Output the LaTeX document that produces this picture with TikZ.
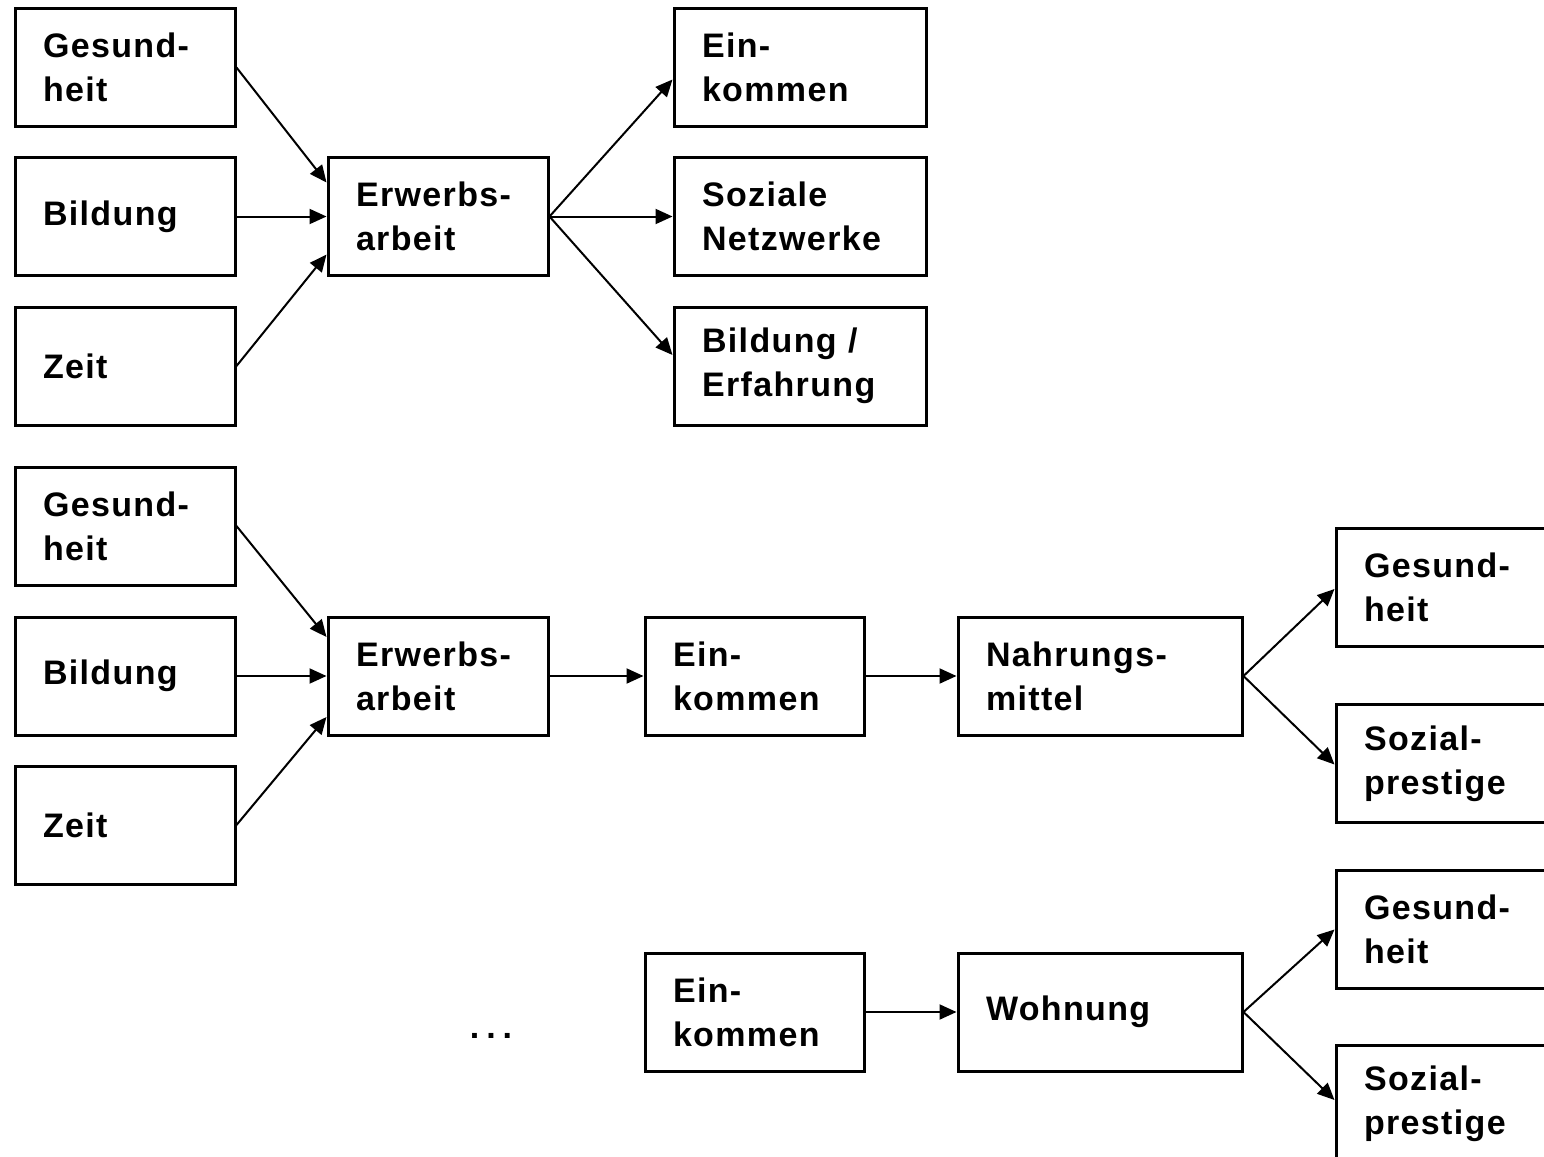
\documentclass[tikz,border=0pt]{standalone}
\usepackage{fontspec}
\setmainfont{Liberation Sans}[LetterSpace=4]
\usetikzlibrary{arrows.meta}
\tikzset{
  box/.style={draw, line width=1.5pt, rectangle, inner xsep=14pt, inner ysep=0pt,
    minimum height=59pt, align=left, anchor=center,
    font=\fontsize{17pt}{22pt}\selectfont\bfseries},
  conn/.style={line width=1pt, -{Triangle[length=8.5pt,width=7.5pt]}}
}
\begin{document}
\begin{tikzpicture}[x=0.5pt,y=-0.5pt]
\useasboundingbox (0,0) rectangle (1544,1157);
\clip (0,0) rectangle (1544,1157);
% row 1
\node[box, text width=82pt] (g1) at (125,67.5) {Gesund-\\heit};
\node[box, text width=82pt] (b1) at (125,216.5) {Bildung};
\node[box, text width=82pt] (z1) at (125,366) {Zeit};
\node[box, text width=82pt] (e1) at (438,216.5) {Erwerbs-\\arbeit};
\node[box, text width=98pt] (k1) at (800,67.5) {Ein-\\kommen};
\node[box, text width=98pt] (s1) at (800,216.5) {Soziale\\Netzwerke};
\node[box, text width=98pt] (f1) at (800,366) {Bildung /\\Erfahrung};
% row 2
\node[box, text width=82pt] (g2) at (125,526) {Gesund-\\heit};
\node[box, text width=82pt] (b2) at (125,676) {Bildung};
\node[box, text width=82pt] (z2) at (125,825) {Zeit};
\node[box, text width=82pt] (e2) at (438,676) {Erwerbs-\\arbeit};
\node[box, text width=81.5pt] (k2) at (754.5,676) {Ein-\\kommen};
\node[box, text width=114pt] (n2) at (1100,676) {Nahrungs-\\mittel};
\node[box, text width=100pt] (h2) at (1464,587) {Gesund-\\heit};
\node[box, text width=100pt] (p2) at (1464,763.5) {Sozial-\\prestige};
% row 3
\node (dots) at (491,1036) {\fontsize{17pt}{22pt}\selectfont\bfseries .\hspace{3.5pt}.\hspace{3.5pt}.};
\node[box, text width=81.5pt] (k3) at (754.5,1012) {Ein-\\kommen};
\node[box, text width=114pt] (w3) at (1100,1012) {Wohnung};
\node[box, text width=100pt] (h3) at (1464,929.5) {Gesund-\\heit};
\node[box, text width=100pt] (p3) at (1464,1104) {Sozial-\\prestige};
% connectors row 1
\draw[conn] (g1.east) -- ([yshift=17pt]e1.west);
\draw[conn] (b1.east) -- (e1.west);
\draw[conn] (z1.east) -- ([yshift=-19pt]e1.west);
\draw[conn] (e1.east) -- ([yshift=-6pt]k1.west);
\draw[conn] (e1.east) -- (s1.west);
\draw[conn] (e1.east) -- ([yshift=5.5pt]f1.west);
% connectors row 2
\draw[conn] (g2.east) -- ([yshift=19.5pt]e2.west);
\draw[conn] (b2.east) -- (e2.west);
\draw[conn] (z2.east) -- ([yshift=-20.5pt]e2.west);
\draw[conn] (e2.east) -- (k2.west);
\draw[conn] (k2.east) -- (n2.west);
\draw[conn] (n2.east) -- ([yshift=-1pt]h2.west);
\draw[conn] (n2.east) -- ([yshift=-0.5pt]p2.west);
% connectors row 3
\draw[conn] (k3.east) -- (w3.west);
\draw[conn] (w3.east) -- ([yshift=0pt]h3.west);
\draw[conn] (w3.east) -- ([yshift=2pt]p3.west);
\end{tikzpicture}
\end{document}
